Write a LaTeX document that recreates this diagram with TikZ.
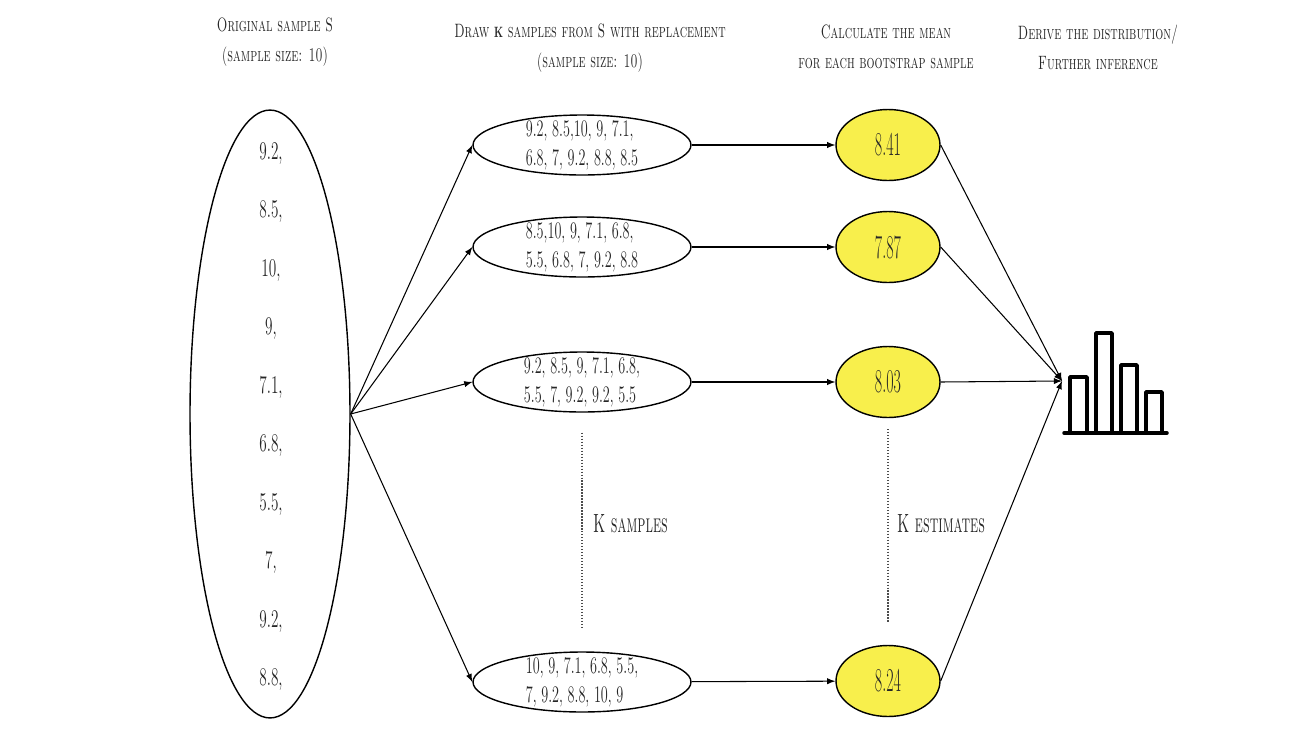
\documentclass[tikz,border=0pt]{standalone}
\usetikzlibrary{arrows,positioning,shapes.geometric}
\definecolor{meanyellow}{HTML}{F8EF4C}
\tikzset{
  txt/.style={text=black!85,xscale=0.6,font=\fontsize{13.5}{16.5}\selectfont,align=left,inner sep=0pt},
  head/.style={text=black!85,xscale=0.65,font=\fontsize{11}{17}\selectfont\scshape,align=center,inner sep=0pt},
  sample/.style={ellipse,draw=black,line width=0.8pt,minimum width=4.36cm,minimum height=1.2cm},
  mean/.style={ellipse,draw=black,line width=0.8pt,fill=meanyellow,minimum width=2.08cm,minimum height=1.42cm},
  link/.style={->,>=latex,line width=0.6pt},
  kdots/.style={densely dotted,line width=0.7pt,black!70},
  bar/.style={line width=2pt,line cap=round,line join=round}
}
\begin{document}
\begin{tikzpicture}[x=0.02cm,y=-0.02cm]
\useasboundingbox (0,0) rectangle (1296,738);
% headers
\node (h1) [head] at (275,42) {Original sample S\\(sample size: 10)};
\node (h2) [head] at (590,48) {Draw \textbf{\fontsize{8.5}{17}\selectfont K} samples from S with replacement\\(sample size: 10)};
\node (h3) [head] at (886,47) {Calculate the mean\\for each bootstrap sample};
\node (h4) [head] at (1098,47) {Derive the distribution/\\Further inference};
%
\node (orig) [ellipse,draw=black,line width=0.8pt,minimum width=3.2cm,minimum height=12.16cm] at (270,414) {};
\foreach \v [count=\i from 0] in {{9.2,},{8.5,},{10,},{9,},{7.1,},{6.8,},{5.5,},{7,},{9.2,},{8.8,}}
  \node[txt,font=\fontsize{14.5}{17}\selectfont] at (271,153+58.5*\i) {\v};
%
\node (s1) [sample] at (582,145) {};
\node (s2) [sample] at (582,247) {};
\node (s3) [sample] at (582,382) {};
\node (s4) [sample] at (582,682) {};
\node (s1t) [txt] at (s1) {9.2, 8.5,10, 9, 7.1,\\6.8, 7, 9.2, 8.8, 8.5};
\node (s2t) [txt] at (s2) {8.5,10, 9, 7.1, 6.8,\\5.5, 6.8, 7, 9.2, 8.8};
\node (s3t) [txt] at (s3) {9.2, 8.5, 9, 7.1, 6.8,\\5.5, 7, 9.2, 9.2, 5.5};
\node (s4t) [txt] at (s4) {10, 9, 7.1, 6.8, 5.5,\\7, 9.2, 8.8, 10, 9};
%
\node (m1) [mean] at (888,145) {};
\node (m2) [mean] at (888,247) {};
\node (m3) [mean] at (888,382) {};
\node (m4) [mean] at (888,681) {};
\node (m1t) [txt,xscale=0.8,font=\fontsize{19}{21}\selectfont] at (m1) {8.41};
\node (m2t) [txt,xscale=0.8,font=\fontsize{19}{21}\selectfont] at (m2) {7.87};
\node (m3t) [txt,xscale=0.8,font=\fontsize{19}{21}\selectfont] at (m3) {8.03};
\node (m4t) [txt,xscale=0.8,font=\fontsize{19}{21}\selectfont] at (m4) {8.24};
%
\coordinate (hist) at (1062,381);
\foreach \s in {s1,s2,s3,s4}
  \draw[link] (orig.east) -- (\s.west);
\draw[link] (s1) -- (m1);
\draw[link] (s2) -- (m2);
\draw[link] (s3) -- (m3);
\draw[link] (s4) -- (m4);
\foreach \m in {m1,m2,m3,m4}
  \draw[link] (\m.east) -- (hist);
%
\draw[kdots,shorten <=0.4cm,shorten >=0.48cm] (s3) -- (s4);
\draw[kdots,shorten <=0.22cm,shorten >=0.46cm] (m3) -- (m4);
\node (ks) [head,anchor=west,xscale=0.85,font=\fontsize{15}{17}\selectfont\scshape] at (593,524) {K samples};
\node (ke) [head,anchor=west,xscale=0.85,font=\fontsize{15}{17}\selectfont\scshape] at (897,524) {K estimates};
% histogram
\draw[bar] (1070,433) rectangle (1087,377);
\draw[bar] (1096,433) rectangle (1112,333);
\draw[bar] (1121,433) rectangle (1137,365);
\draw[bar] (1146,433) rectangle (1162,392);
\draw[bar] (1064,433) -- (1167,433);
\end{tikzpicture}
\end{document}
